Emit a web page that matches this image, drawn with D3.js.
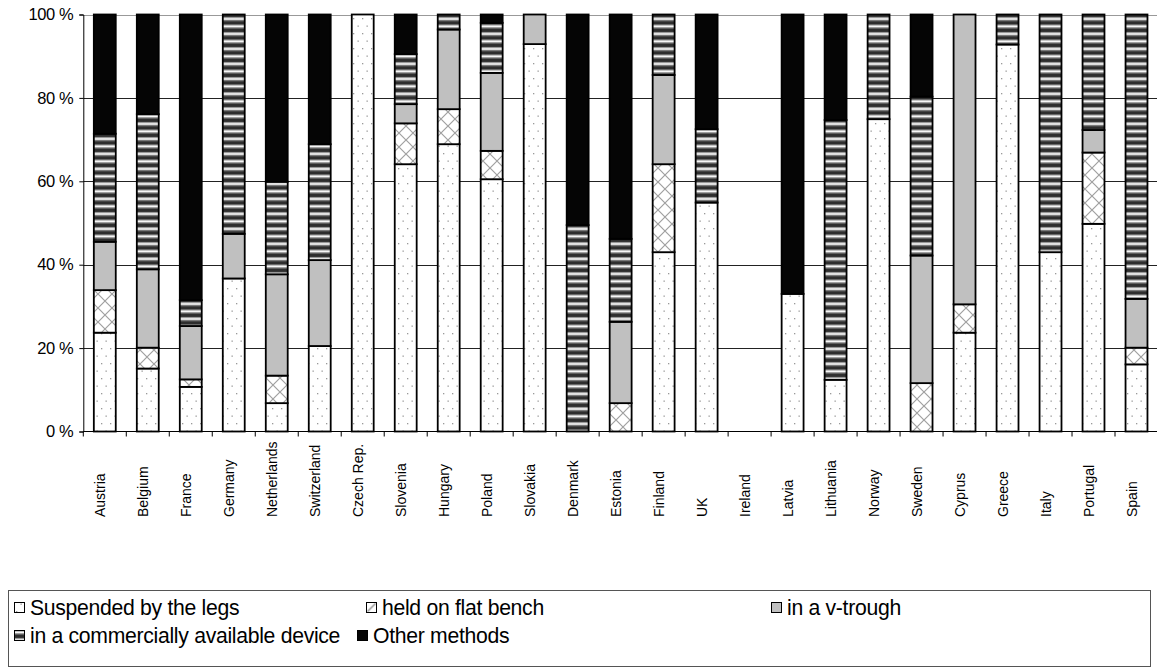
<!DOCTYPE html>
<html>
<head>
<meta charset="utf-8">
<script src="https://cdn.jsdelivr.net/npm/d3@7/dist/d3.min.js"></script>
<style>
  body { margin: 0; background: #fff; }
  svg { display: block; font-family: "Liberation Sans", Arial, sans-serif; }
</style>
</head>
<body>
<div id="chart"></div>
<script>
const countries = ["Austria", "Belgium", "France", "Germany", "Netherlands", "Switzerland", "Czech Rep.",
  "Slovenia", "Hungary", "Poland", "Slovakia", "Denmark", "Estonia", "Finland", "UK", "Ireland",
  "Latvia", "Lithuania", "Norway", "Sweden", "Cyprus", "Greece", "Italy", "Portugal", "Spain"];

// shares in %
const suspended  = [23.7, 15.1, 10.7, 36.7, 6.8, 20.5, 100, 64.1, 68.9, 60.5, 92.9, 0, 0, 43.0, 54.9, 0, 33.0, 12.4, 74.9, 0, 23.7, 92.8, 43.0, 49.8, 16.1];
const flatBench  = [10.2, 5.0, 1.8, 0, 6.6, 0, 0, 9.8, 8.4, 6.8, 0, 0, 6.8, 21.1, 0, 0, 0, 0, 0, 11.6, 6.8, 0, 0, 17.1, 4.0];
const vTrough    = [11.6, 18.8, 12.8, 10.7, 24.3, 20.6, 0, 4.6, 19.1, 18.7, 7.1, 0, 19.5, 21.4, 0, 0, 0, 0, 0, 30.6, 69.5, 0, 0, 5.4, 11.7];
const commercial = [25.9, 37.2, 6.2, 52.6, 22.2, 27.8, 0, 12.0, 3.6, 12.0, 0, 49.5, 19.9, 14.5, 17.6, 0, 0, 62.3, 25.1, 38.1, 0, 7.2, 57.0, 27.7, 68.2];
const other      = [28.6, 23.9, 68.5, 0, 40.1, 31.1, 0, 9.5, 0, 2.0, 0, 50.5, 53.8, 0, 27.5, 0, 67.0, 25.3, 0, 19.7, 0, 0, 0, 0, 0];

const seriesKeys = ["suspended", "flat", "trough", "commercial", "other"];
const seriesNames = ["Suspended by the legs", "held on flat bench", "in a v-trough",
  "in a commercially available device", "Other methods"];
const yTicks = [0, 20, 40, 60, 80, 100];

const table = countries.map((c, i) => ({
  country: c, suspended: suspended[i], flat: flatBench[i], trough: vTrough[i],
  commercial: commercial[i], other: other[i]
}));

const width = 1157, height = 668;
const plotLeft = 83.3, plotRight = 1158, plotTop = 14.5, plotBottom = 431.5;

const svg = d3.select("#chart").append("svg")
  .attr("width", width).attr("height", height);

// fill patterns
const defs = svg.append("defs");
const dots = defs.append("pattern").attr("id", "p-dots")
  .attr("patternUnits", "userSpaceOnUse").attr("width", 9).attr("height", 15);
dots.append("rect").attr("width", 9).attr("height", 15).attr("fill", "#fff");
dots.append("rect").attr("x", 2).attr("y", 3).attr("width", 1.3).attr("height", 1.3).attr("fill", "#999");
dots.append("rect").attr("x", 6.5).attr("y", 10.5).attr("width", 1.3).attr("height", 1.3).attr("fill", "#999");

const hatch = defs.append("pattern").attr("id", "p-hatch")
  .attr("patternUnits", "userSpaceOnUse").attr("width", 14).attr("height", 14);
hatch.append("rect").attr("width", 14).attr("height", 14).attr("fill", "#fff");
hatch.append("path").attr("d", "M0,0L14,14M14,0L0,14")
  .attr("stroke", "#a0a0a0").attr("stroke-width", 1.2);

// small legend swatch for the bench: a single diagonal
const hatchKey = defs.append("pattern").attr("id", "p-hatch-key")
  .attr("patternUnits", "objectBoundingBox").attr("width", 1).attr("height", 1)
  .attr("patternContentUnits", "objectBoundingBox");
hatchKey.append("rect").attr("width", 1).attr("height", 1).attr("fill", "#fff");
hatchKey.append("path").attr("d", "M0.1,0.9L0.9,0.1")
  .attr("stroke", "#888").attr("stroke-width", 0.12);

const stripes = defs.append("pattern").attr("id", "p-stripes")
  .attr("patternUnits", "userSpaceOnUse").attr("width", 8).attr("height", 7.5);
stripes.append("rect").attr("width", 8).attr("height", 7.5).attr("fill", "#2e2e2e");
stripes.append("rect").attr("y", 2).attr("width", 8).attr("height", 1).attr("fill", "#9a9a9a");
stripes.append("rect").attr("y", 3).attr("width", 8).attr("height", 2).attr("fill", "#fff");
stripes.append("rect").attr("y", 5).attr("width", 8).attr("height", 1).attr("fill", "#9a9a9a");

const fills = {
  suspended: "url(#p-dots)", flat: "url(#p-hatch)", trough: "#c0c0c0",
  commercial: "url(#p-stripes)", other: "#050505"
};
const keyFills = Object.assign({}, fills, { flat: "url(#p-hatch-key)" });

const x = d3.scaleBand().domain(countries).range([plotLeft, plotRight])
  .paddingInner(0.49).paddingOuter(0.245);
const y = d3.scaleLinear().domain([0, 100]).range([plotBottom, plotTop]);

// gridlines
svg.append("g").selectAll("line").data(yTicks.filter(d => d > 0)).join("line")
  .attr("x1", plotLeft).attr("x2", plotRight)
  .attr("y1", d => Math.round(y(d)) + 0.5).attr("y2", d => Math.round(y(d)) + 0.5)
  .attr("stroke", d => d === 100 ? "#999" : "#222").attr("stroke-width", 1);

// stacked bars
const stacked = d3.stack().keys(seriesKeys)(table);
svg.append("g").selectAll("g").data(stacked).join("g")
  .attr("fill", s => fills[s.key])
  .selectAll("rect").data(s => s.filter(d => d[1] - d[0] > 0)).join("rect")
  .attr("x", d => x(d.data.country))
  .attr("width", x.bandwidth())
  .attr("y", d => y(d[1]))
  .attr("height", d => y(d[0]) - y(d[1]))
  .attr("stroke", "#000").attr("stroke-width", 1.8);

// y axis
const yAxis = svg.append("g").attr("transform", `translate(${plotLeft},0)`)
  .call(d3.axisLeft(y).tickValues(yTicks).tickSize(4).tickPadding(6).tickFormat(d => d + " %"));
yAxis.select(".domain").attr("stroke", "#000");
yAxis.selectAll("text").attr("font-size", 16.5).attr("letter-spacing", -0.4)
  .attr("font-family", "Liberation Sans, Arial, sans-serif").attr("fill", "#000");

// x axis with ticks on band boundaries
const xg = svg.append("g");
xg.append("line").attr("x1", plotLeft).attr("x2", plotRight)
  .attr("y1", plotBottom).attr("y2", plotBottom).attr("stroke", "#000");
xg.selectAll("line.tick").data(d3.range(countries.length + 1)).join("line")
  .attr("class", "tick")
  .attr("x1", i => plotLeft + i * x.step()).attr("x2", i => plotLeft + i * x.step())
  .attr("y1", plotBottom).attr("y2", plotBottom + 5).attr("stroke", "#000");
xg.selectAll("text").data(countries).join("text")
  .attr("transform", d => `translate(${x(d) + x.bandwidth() / 2},517) rotate(-90)`)
  .attr("font-size", 14).attr("fill", "#000")
  .text(d => d);

// legend
const lg = svg.append("g");
lg.append("rect").attr("x", 8.5).attr("y", 590.5).attr("width", 1142).attr("height", 76)
  .attr("fill", "#fff").attr("stroke", "#555");
const legendPos = [[14, 608], [366, 608], [771, 608], [14, 636], [357, 636]];
const items = lg.selectAll("g").data(seriesKeys).join("g")
  .attr("transform", (d, i) => `translate(${legendPos[i][0]},${legendPos[i][1]})`);
items.append("rect").attr("x", 0.5).attr("y", -5.5).attr("width", 10).attr("height", 10)
  .attr("fill", d => keyFills[d]).attr("stroke", "#000");
items.append("text").attr("x", 16).attr("y", 7)
  .attr("font-size", 21.2).attr("letter-spacing", -0.3).attr("fill", "#000")
  .text((d, i) => seriesNames[i]);
</script>
</body>
</html>
